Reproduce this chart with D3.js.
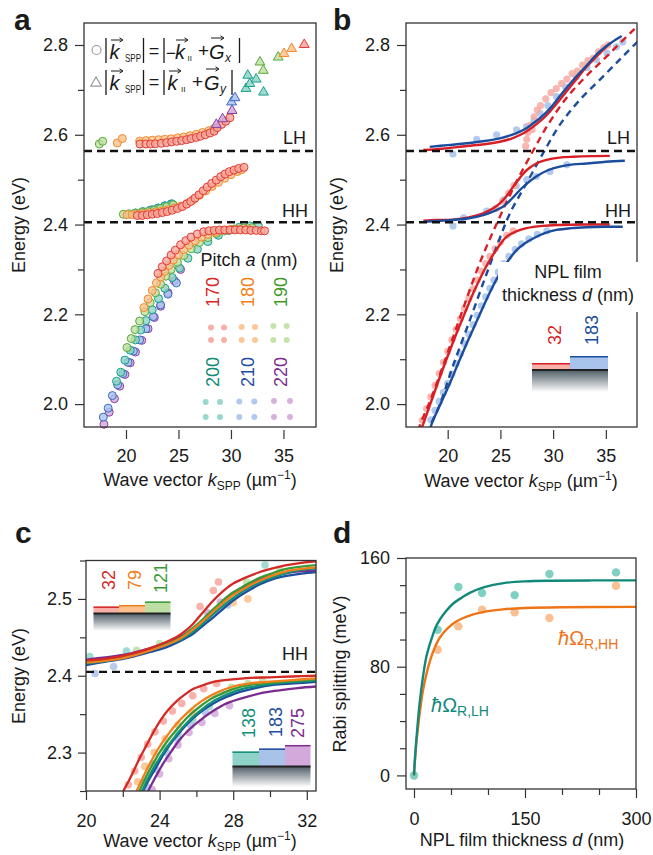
<!DOCTYPE html>
<html>
<head>
<meta charset="utf-8">
<script src="https://cdn.jsdelivr.net/npm/d3@7"></script>
<style>
  body { margin: 0; background: #fff; }
  text { font-family: "Liberation Sans", Arial, Helvetica, sans-serif; fill: #1a1a1a; }
</style>
</head>
<body>
<svg id="fig" width="653" height="855"></svg>
<script>
// ---------------- Panel a: measured polariton dispersion for six grating pitches ----------------
const pitches = [170, 180, 190, 200, 210, 220];
const pitchStroke = { 170: "#e23b33", 180: "#f28a2e", 190: "#5aa83a", 200: "#17a08a", 210: "#3b6cc4", 220: "#8a3f9e" };
const pitchFill   = { 170: "#f6a79f", 180: "#fbc28d", 190: "#bfe0a4", 200: "#8fd4c8", 210: "#a9c3ee", 220: "#d2a9da" };
const pitchText   = { 170: "#d9261f", 180: "#f07f16", 190: "#3f9a2a", 200: "#0f8c76", 210: "#1f4ea0", 220: "#7b2d8e" };

// circles: |k_SPP| = |-k + Gx| ; triangles: |k_SPP| = |k + Gy|   ([k (um^-1), E (eV)])
const circles220 = [[17.9,1.955],[18.4,1.982],[18.9,2.012],[19.4,2.040],[19.9,2.066],[20.4,2.092],[20.9,2.116],[21.5,2.142],[22.1,2.168],[22.7,2.193],[23.3,2.218],[24.0,2.248],[24.6,2.275],[25.2,2.300]];
const circles210 = [[17.84,1.971],[18.3,1.991],[18.7,2.019],[19.2,2.043],[19.7,2.068],[20.2,2.093],[20.7,2.118],[21.3,2.143],[21.9,2.168],[22.6,2.195],[23.3,2.221],[24.0,2.245],[24.8,2.270],
  [22.5,2.433],[23.1,2.437],[23.7,2.442],[24.3,2.446]];
const circles200 = [[19.1,2.051],[19.5,2.071],[19.9,2.098],[20.4,2.120],[20.9,2.143],[21.4,2.165],[21.9,2.186],[22.5,2.210],[23.1,2.235],[23.7,2.258],[24.4,2.282],[25.1,2.303],[25.9,2.325],[26.8,2.345],[27.8,2.362],[28.8,2.376],[29.8,2.387],[30.8,2.394],[31.8,2.397],[32.6,2.398],
  [20.9,2.426],[21.6,2.429],[22.3,2.432],[23.0,2.436],[23.7,2.441],[24.4,2.446]];
const circles190 = [[20.1,2.126],[20.5,2.146],[20.86,2.166],[21.3,2.185],[21.8,2.206],[22.3,2.226],[22.8,2.248],[23.3,2.267],[23.8,2.285],[24.3,2.300],[24.9,2.316],[25.5,2.331],[26.2,2.346],[27.0,2.360],[27.8,2.371],[28.6,2.380],[29.4,2.386],[30.3,2.390],[31.2,2.392],[32.0,2.393],
  [19.75,2.423],[20.3,2.424],[20.9,2.425],[21.5,2.427],[22.1,2.429],[22.7,2.432],[23.3,2.436],[23.9,2.440],[24.5,2.444],
  [17.46,2.5795],[17.78,2.5855]];
const circles180 = [[21.7,2.215],[22.1,2.234],[22.5,2.253],[22.9,2.270],[23.3,2.283],[23.7,2.296],[24.1,2.309],[24.5,2.321],[25.0,2.333],[25.5,2.344],[26.0,2.354],[26.6,2.364],[27.2,2.372],[27.8,2.378],[28.5,2.383],[29.2,2.387],[30.0,2.389],[30.8,2.390],[31.6,2.390],
  [20.1,2.4217],[20.6,2.422],[21.1,2.423],[21.6,2.424],[22.2,2.426],[22.8,2.428],[23.4,2.430],[24.0,2.433],[24.6,2.437],[25.2,2.441],[25.8,2.447],[26.4,2.455],[27.0,2.465],[27.6,2.475],[28.2,2.485],[28.8,2.494],[29.4,2.503],[30.0,2.511],[30.6,2.518],[31.0,2.522],
  [19.17,2.5817],[19.65,2.5915],[21.3,2.586],[21.9,2.587],[22.5,2.588],[23.1,2.589],[23.7,2.590],[24.3,2.591],[24.9,2.593],[25.5,2.595],[26.1,2.598],[26.7,2.601],[27.3,2.605],[27.9,2.609],[28.4,2.614]];
const circles170 = [[23.05,2.291],[23.46,2.306],[23.87,2.319],[24.3,2.332],[24.7,2.343],[25.2,2.355],[25.7,2.364],[26.2,2.372],[26.8,2.379],[27.4,2.384],[27.9,2.386],[28.4,2.387],[28.9,2.388],[29.4,2.388],[29.9,2.388],[30.4,2.388],[30.9,2.388],[31.4,2.388],[31.9,2.387],[32.4,2.387],[32.9,2.386],[33.2,2.386],
  [21.08,2.4201],[21.55,2.4201],[22.03,2.4217],[22.5,2.423],[22.98,2.4246],[23.46,2.4268],[23.93,2.429],[24.4,2.432],[24.89,2.4357],[25.36,2.440],[25.78,2.4454],[26.16,2.4514],[26.57,2.4588],[26.95,2.4663],[27.36,2.4753],[27.74,2.4834],[28.16,2.4916],[28.6,2.499],[29.02,2.5066],[29.43,2.5124],[29.84,2.5178],[30.29,2.5214],[30.73,2.525],[31.24,2.5274],
  [21.33,2.5795],[21.9,2.5795],[22.35,2.5795],[22.8,2.580],[23.36,2.581],[23.87,2.5825],[24.35,2.584],[24.83,2.5855],[25.3,2.587],[25.78,2.589],[26.2,2.5915],[26.7,2.594],[27.1,2.597],[27.55,2.600],[28.0,2.604],[28.4,2.608],[28.7,2.616],[29.1,2.623],[29.5,2.630],[29.9,2.638]];
const circlesByPitch = { 170: circles170, 180: circles180, 190: circles190, 200: circles200, 210: circles210, 220: circles220 };

const triangles220 = [[28.6,2.625],[29.2,2.6375],[30.1,2.656]];
const triangles210 = [[30.06,2.675],[30.38,2.6845]];
const triangles200 = [[31.43,2.705],[31.8,2.716],[32.4,2.726],[31.6,2.7345],[33.1,2.697]];
const triangles190 = [[32.76,2.764],[33.08,2.7455],[34.5,2.775]];
const triangles180 = [[35.05,2.783],[35.78,2.794]];
const triangles170 = [[36.98,2.803]];
const trianglesByPitch = { 170: triangles170, 180: triangles180, 190: triangles190, 200: triangles200, 210: triangles210, 220: triangles220 };

const excitonLH = 2.564;
const excitonHH = 2.405;

// ---------------- Panel b: coupled-oscillator fits for d = 32 nm (red) and 183 nm (blue) ----------------
const bRedUpper  = [[17.69,2.566],[19.5,2.569],[21.8,2.575],[23.5,2.579],[24.95,2.5845],[26.0,2.591],[26.85,2.5995],[27.5,2.608],[28.1,2.618],[28.8,2.631],[29.4,2.644],[30.0,2.660],[30.6,2.677],[31.9,2.715],[33.2,2.752],[34.4,2.781],[35.4,2.804]];
const bBlueUpper = [[18.3,2.573],[20.0,2.577],[21.8,2.581],[23.5,2.586],[24.95,2.592],[26.0,2.599],[26.85,2.607],[27.5,2.615],[28.1,2.6255],[28.8,2.638],[29.4,2.651],[30.0,2.667],[30.6,2.685],[31.9,2.722],[33.2,2.755],[34.4,2.785],[35.5,2.805],[36.5,2.820]];
const bRedMiddle  = [[17.7,2.4085],[19.0,2.410],[20.5,2.411],[22.0,2.416],[23.37,2.425],[24.3,2.436],[24.95,2.447],[25.6,2.464],[26.2,2.484],[26.85,2.504],[27.48,2.521],[28.4,2.536],[29.37,2.544],[30.6,2.549],[31.9,2.551],[33.6,2.5525],[35.37,2.553]];
const bBlueMiddle = [[17.7,2.406],[19.0,2.408],[20.5,2.410],[22.0,2.414],[23.37,2.421],[24.4,2.430],[25.27,2.440],[26.1,2.458],[26.85,2.477],[27.6,2.493],[28.4,2.507],[29.5,2.521],[30.63,2.529],[31.9,2.534],[33.16,2.536],[35.0,2.540],[36.8,2.542]];
const bRedLower  = [[17.5,1.945],[17.7,1.957],[18.5,2.010],[19.27,2.061],[20.05,2.110],[20.85,2.158],[21.65,2.204],[22.42,2.247],[23.2,2.286],[24.0,2.321],[24.8,2.350],[25.6,2.373],[26.5,2.385],[27.48,2.392],[29.0,2.397],[30.63,2.399],[33.0,2.400],[35.37,2.400]];
const bBlueLower = [[18.35,1.945],[18.5,1.957],[19.35,2.002],[20.2,2.046],[21.0,2.091],[21.8,2.135],[22.6,2.177],[23.37,2.217],[24.15,2.256],[24.95,2.291],[25.75,2.320],[26.53,2.343],[27.3,2.358],[28.1,2.369],[29.2,2.381],[30.3,2.388],[31.7,2.392],[33.16,2.394],[34.9,2.395],[36.6,2.395]];
const bRedSPP  = [[17.2,1.94],[17.4,1.955],[18.3,2.005],[19.4,2.075],[20.5,2.148],[21.8,2.235],[23.0,2.312],[24.0,2.368],[25.0,2.420],[26.4,2.490],[28.0,2.560],[29.5,2.622],[31.3,2.683],[33.2,2.732],[35.1,2.775],[37.6,2.833],[38.4,2.850]];
const bBlueSPP = [[18.0,1.935],[18.3,1.950],[19.27,2.000],[20.5,2.085],[22.1,2.187],[23.7,2.291],[24.95,2.370],[25.9,2.425],[27.48,2.492],[29.05,2.559],[30.63,2.622],[32.5,2.677],[34.7,2.729],[36.5,2.772],[37.9,2.805],[38.6,2.820]];
const bRedDots = [[17.6,1.964],[18.0,1.990],[18.4,2.016],[18.8,2.042],[19.2,2.068],[19.6,2.093],[20.0,2.118],[20.4,2.143],[20.8,2.167],[21.2,2.190],[21.6,2.213],[22.0,2.235],[22.4,2.257],[22.8,2.277],[23.2,2.296],[23.6,2.313],[24.0,2.329],[24.5,2.346],[25.0,2.361],[25.6,2.376],[26.2,2.386],
  [24.6,2.436],[25.2,2.452],[25.8,2.470],[26.3,2.487],
  [27.4,2.575],[27.5,2.590],[27.6,2.605],[27.8,2.621],[28.0,2.612],[28.2,2.640],[28.5,2.655],[28.8,2.665],[29.3,2.680],[29.8,2.694],[30.3,2.703],[30.8,2.714],[31.3,2.724],[31.8,2.736],[32.3,2.742],[32.8,2.755],[33.3,2.765],[33.8,2.771],[34.3,2.785],[34.8,2.794],[35.2,2.800]];
const bBlueDots = [[18.4,1.965],[18.8,1.986],[19.2,2.006],[19.6,2.026],[20.0,2.046],[20.4,2.067],[20.8,2.090],[21.2,2.112],[21.6,2.135],[22.0,2.156],[22.4,2.177],[22.8,2.198],[23.2,2.219],[23.6,2.239],[24.0,2.258],[24.4,2.276],[24.8,2.294],[25.3,2.313],[25.8,2.329],[26.4,2.345],[27.0,2.357],[27.7,2.368],[28.5,2.378],[29.4,2.386],
  [20.5,2.397],[21.5,2.415],[23.7,2.430],[25.3,2.455],[26.5,2.486],[27.5,2.500],[28.4,2.507],[29.7,2.518],[31.3,2.533],
  [20.5,2.557],[22.75,2.590],[24.64,2.600],[26.53,2.611],[27.48,2.618],[28.2,2.632],[28.75,2.648],[29.5,2.665],[30.32,2.685],[31.2,2.706],[32.2,2.729],[33.2,2.750],[34.1,2.767],[35.1,2.782],[36.0,2.796],[36.6,2.807]];

// ---------------- Panel c: fits for six film thicknesses around the HH exciton ----------------
const cThickness = [32, 79, 121, 138, 183, 275];
const cStroke = { 32: "#d42a25", 79: "#f0801e", 121: "#3b9a36", 138: "#108f7a", 183: "#1f4e9c", 275: "#7b2d8e" };
const cFill   = { 32: "#f6a49c", 79: "#fbc08c", 121: "#bcdfa6", 138: "#8fd3c8", 183: "#a9c2ea", 275: "#d3a8da" };
const cUpper = {
  32:  [[20,2.420],[21,2.422],[22,2.426],[22.57,2.429],[23.5,2.436],[24.35,2.444],[24.9,2.450],[25.43,2.459],[25.8,2.467],[26.16,2.477],[26.55,2.488],[26.92,2.498],[27.5,2.511],[28,2.520],[28.7,2.528],[29.46,2.535],[30.2,2.540],[30.9,2.544],[31.7,2.547],[32.5,2.549]],
  79:  [[20,2.417],[22,2.423],[23.5,2.433],[24.35,2.440],[25.1,2.448],[25.7,2.458],[26.3,2.470],[26.8,2.481],[27.4,2.494],[28,2.505],[28.7,2.515],[29.46,2.524],[30.2,2.531],[30.9,2.536],[31.7,2.539],[32.5,2.541]],
  121: [[20,2.418],[22,2.424],[23.5,2.434],[24.35,2.441],[25.1,2.449],[25.6,2.458],[26.2,2.470],[26.7,2.482],[27.3,2.495],[27.9,2.507],[28.6,2.517],[29.4,2.527],[30.2,2.534],[30.9,2.539],[31.7,2.542],[32.5,2.544]],
  138: [[20,2.416],[22,2.423],[23.5,2.433],[24.35,2.440],[25.2,2.448],[25.8,2.457],[26.4,2.469],[26.9,2.480],[27.5,2.492],[28.1,2.503],[28.8,2.514],[29.6,2.523],[30.4,2.530],[31.1,2.535],[31.8,2.538],[32.5,2.540]],
  183: [[20,2.414],[21,2.418],[22,2.422],[22.57,2.425],[23.5,2.431],[24.35,2.437],[25.1,2.445],[25.84,2.455],[26.4,2.466],[26.92,2.476],[27.5,2.488],[28,2.498],[28.7,2.509],[29.46,2.519],[30.2,2.526],[30.9,2.530],[31.7,2.533],[32.5,2.535]],
  275: [[20,2.421],[22,2.427],[23.5,2.436],[24.35,2.443],[25,2.449],[25.43,2.455],[26,2.465],[26.55,2.476],[27.1,2.488],[27.64,2.500],[28.3,2.511],[29.1,2.522],[29.9,2.529],[30.72,2.533],[31.6,2.536],[32.5,2.537]]
};
const cLower = {
  32:  [[21.9,2.243],[22.03,2.250],[22.3,2.262],[22.57,2.275],[22.9,2.292],[23.3,2.310],[23.65,2.326],[24.02,2.341],[24.45,2.355],[24.93,2.367],[25.4,2.376],[25.84,2.383],[26.4,2.388],[26.92,2.392],[27.8,2.395],[28.73,2.397],[30,2.398],[31.2,2.399],[32.5,2.400]],
  79:  [[22.6,2.243],[22.75,2.250],[23.1,2.268],[23.48,2.286],[23.9,2.304],[24.38,2.321],[24.9,2.337],[25.47,2.351],[26,2.362],[26.55,2.371],[27.2,2.379],[28,2.386],[28.9,2.390],[29.82,2.392],[31,2.394],[32.5,2.3966]],
  121: [[22.75,2.243],[22.9,2.250],[23.25,2.268],[23.65,2.286],[24.07,2.303],[24.55,2.319],[25.1,2.335],[25.65,2.349],[26.2,2.360],[26.8,2.370],[27.5,2.378],[28.3,2.385],[29.2,2.389],[30.1,2.391],[31.2,2.393],[32.5,2.395]],
  138: [[22.9,2.243],[23.05,2.250],[23.4,2.268],[23.8,2.285],[24.25,2.302],[24.75,2.318],[25.3,2.334],[25.85,2.347],[26.4,2.358],[27,2.368],[27.7,2.376],[28.5,2.383],[29.4,2.387],[30.3,2.390],[31.3,2.392],[32.5,2.394]],
  183: [[23.0,2.243],[23.11,2.250],[23.45,2.266],[23.84,2.282],[24.27,2.300],[24.74,2.316],[25.3,2.332],[25.84,2.345],[26.4,2.356],[26.92,2.364],[27.6,2.372],[28.37,2.379],[29.2,2.384],[30.18,2.388],[31.3,2.390],[32.5,2.392]],
  275: [[23.25,2.243],[23.38,2.250],[23.75,2.267],[24.2,2.286],[24.65,2.302],[25.1,2.317],[25.65,2.331],[26.2,2.342],[26.9,2.354],[27.64,2.364],[28.5,2.371],[29.46,2.377],[30.5,2.381],[31.5,2.384],[32.5,2.386]]
};
const cDots = {
  275: [[23.6,2.252],[24.0,2.272],[24.5,2.292],[25.0,2.310],[25.6,2.326],[26.3,2.339],[27.0,2.351],[27.8,2.361],[26.6,2.482],[27.3,2.496]],
  183: [[20.49,2.403],[21.5,2.412],[23.3,2.255],[23.8,2.278],[24.4,2.300],[25.0,2.318],[25.7,2.335],[26.5,2.352],[27.5,2.375],[27.7,2.492]],
  138: [[20.2,2.425],[22.2,2.432],[29.73,2.544],[23.2,2.262],[23.7,2.285],[24.3,2.306],[25.0,2.325],[25.8,2.343],[26.7,2.360],[27.8,2.377]],
  121: [[22.75,2.433],[24.0,2.442],[28.73,2.522],[30.54,2.5375],[28.3,2.508],[28.8,2.390],[29.6,2.393],[27.9,2.385]],
  79:  [[22.8,2.262],[23.2,2.282],[23.7,2.300],[24.3,2.318],[25.0,2.336],[25.8,2.352],[28.8,2.500],[28.0,2.495]],
  32:  [[22.3,2.258],[22.65,2.276],[23.0,2.294],[23.35,2.311],[23.75,2.327],[24.2,2.341],[24.7,2.354],[25.2,2.364],[25.8,2.374],[26.4,2.383],[27.1,2.390],[26.2,2.490],[26.92,2.511],[27.2,2.522]]
};

// ---------------- Panel d: Rabi splitting vs film thickness ----------------
const dThickness = [0, 32, 60, 92, 136, 183, 273];
const rabiLH = [0, 107.2, 138.7, 134.2, 132.7, 148.2, 149.4];
const rabiHH = [0, 92.5, 109.7, 122.0, 120.0, 115.8, 139.6];
const fitLH = [[0,0],[1,10],[2,18],[3,25],[5,38],[8,55],[12,72],[17,88],[24,101],[31,111],[42,120],[53,126.5],[65,131],[76,134.5],[95,138.5],[121,141.5],[150,142.8],[188,143.3],[240,143.5],[300,143.5]];
const fitHH = [[0,0],[1,9],[2,16],[3,23],[5,33],[8,47],[12,62],[17,75],[22,85],[28,94],[35,101.5],[45,108],[55,112.5],[65,115.5],[80,118.5],[98,120.7],[120,122.2],[150,123.2],[200,123.8],[300,124]];

// =====================================================================================
const svg = d3.select("#fig");
const FS = 18;
const defs = svg.append("defs");

const grad = defs.append("linearGradient").attr("id", "substrate").attr("x1", 0).attr("y1", 0).attr("x2", 0).attr("y2", 1);
grad.append("stop").attr("offset", "0%").attr("stop-color", "#4f5d66");
grad.append("stop").attr("offset", "100%").attr("stop-color", "#ffffff");

function clip(id, x0, y0, x1, y1) {
  defs.append("clipPath").attr("id", id).append("rect").attr("x", x0).attr("y", y0).attr("width", x1 - x0).attr("height", y1 - y0);
  return `url(#${id})`;
}

function frame(x0, y0, x1, y1) {
  svg.append("rect").attr("x", x0).attr("y", y0).attr("width", x1 - x0).attr("height", y1 - y0)
    .attr("fill", "none").attr("stroke", "#333").attr("stroke-width", 1.3);
}

function leftAxis(y, x, all, major, fmt, size, pad) {
  const g = svg.append("g").attr("transform", `translate(${x},0)`)
    .call(d3.axisLeft(y).tickValues(all).tickSize(size).tickPadding(pad).tickFormat(fmt));
  g.select(".domain").remove();
  g.selectAll(".tick").each(function (d) {
    const isMajor = major.some(m => Math.abs(m - d) < 1e-9);
    if (!isMajor) { d3.select(this).select("text").remove(); d3.select(this).select("line").attr("x2", -6); }
  });
  g.selectAll("line").attr("stroke", "#333").attr("stroke-width", 1.2);
  g.selectAll("text").attr("font-size", FS).attr("fill", "#1a1a1a").attr("font-family", null);
  return g;
}

function bottomAxis(x, y0, all, major, fmt, size, pad) {
  const g = svg.append("g").attr("transform", `translate(0,${y0})`)
    .call(d3.axisBottom(x).tickValues(all).tickSize(size).tickPadding(pad).tickFormat(fmt));
  g.select(".domain").remove();
  g.selectAll(".tick").each(function (d) {
    const isMajor = major.some(m => Math.abs(m - d) < 1e-9);
    if (!isMajor) { d3.select(this).select("text").remove(); d3.select(this).select("line").attr("y2", 6); }
  });
  g.selectAll("line").attr("stroke", "#333").attr("stroke-width", 1.2);
  g.selectAll("text").attr("font-size", FS).attr("fill", "#1a1a1a").attr("font-family", null);
  return g;
}

function waveVectorTitle(cx, y) {
  const t = svg.append("text").attr("x", cx).attr("y", y).attr("text-anchor", "middle").attr("font-size", FS);
  t.append("tspan").text("Wave vector ");
  t.append("tspan").attr("font-style", "italic").text("k");
  t.append("tspan").attr("font-size", 12).attr("dy", 4).text("SPP");
  t.append("tspan").attr("dy", -4).text(" (µm");
  t.append("tspan").attr("font-size", 12).attr("dy", -7).text("−1");
  t.append("tspan").attr("dy", 7).text(")");
}

function yTitle(x, cy, txt) {
  svg.append("text").attr("transform", `translate(${x},${cy}) rotate(-90)`).attr("text-anchor", "middle")
    .attr("font-size", FS).text(txt);
}

function panelLetter(x, y, s) {
  svg.append("text").attr("x", x).attr("y", y).attr("font-size", 30).attr("font-weight", "bold").attr("fill", "#000").text(s);
}

function rotLabel(x, y, s, color, size) {
  svg.append("text").attr("transform", `translate(${x},${y}) rotate(-90)`).attr("text-anchor", "middle")
    .attr("dominant-baseline", "central").attr("font-size", size || FS).style("fill", color).text(s);
}

function dashed(yv, x0, x1) {
  svg.append("line").attr("x1", x0).attr("x2", x1).attr("y1", yv).attr("y2", yv)
    .attr("stroke", "#111").attr("stroke-width", 2.4).attr("stroke-dasharray", "8,5");
}

function filmIcon(x0, layers, lineY, baseBottom) {
  let x = x0;
  const total = layers.reduce((s, l) => s + l.w, 0);
  svg.append("rect").attr("x", x0).attr("y", lineY).attr("width", total).attr("height", baseBottom - lineY).attr("fill", "url(#substrate)");
  layers.forEach(l => {
    svg.append("rect").attr("x", x).attr("y", l.top).attr("width", l.w).attr("height", lineY - l.top).attr("fill", l.fill);
    svg.append("line").attr("x1", x).attr("x2", x + l.w).attr("y1", l.top + 0.7).attr("y2", l.top + 0.7).attr("stroke", l.stroke).attr("stroke-width", 1.5);
    x += l.w;
  });
  svg.append("line").attr("x1", x0).attr("x2", x0 + total).attr("y1", lineY).attr("y2", lineY).attr("stroke", "#222").attr("stroke-width", 2);
}

// ===================== Panel a =====================
{
  const x = d3.scaleLinear().domain([16, 38.1]).range([84, 316]);
  const y = d3.scaleLinear().domain([1.949, 2.849]).range([427, 23]);
  const sub = svg.append("g");

  dashed(y(excitonLH), 84, 316);
  dashed(y(excitonHH), 84, 316);
  svg.append("text").attr("x", 306).attr("y", 144).attr("text-anchor", "end").attr("font-size", FS).text("LH");
  svg.append("text").attr("x", 308).attr("y", 217).attr("text-anchor", "end").attr("font-size", FS).text("HH");

  const order = [220, 210, 200, 190, 180, 170];
  order.forEach(p => {
    sub.append("g").selectAll("circle").data(circlesByPitch[p]).join("circle")
      .attr("cx", d => x(d[0])).attr("cy", d => y(d[1])).attr("r", 4)
      .attr("fill", pitchFill[p]).attr("fill-opacity", 0.8).attr("stroke", pitchStroke[p]).attr("stroke-width", 1);
  });
  order.forEach(p => {
    sub.append("g").selectAll("path").data(trianglesByPitch[p]).join("path")
      .attr("transform", d => `translate(${x(d[0])},${y(d[1]) + 1})`)
      .attr("d", d3.symbol(d3.symbolTriangle, 42))
      .attr("fill", pitchFill[p]).attr("fill-opacity", 0.85).attr("stroke", pitchStroke[p]).attr("stroke-width", 1);
  });

  frame(84, 23, 316, 427);
  leftAxis(y, 84, d3.range(2.0, 2.81, 0.1).map(v => +v.toFixed(2)), [2.0, 2.2, 2.4, 2.6, 2.8], d3.format(".1f"), 9, 7);
  bottomAxis(x, 430, [20, 25, 30, 35], [20, 25, 30, 35], d3.format("d"), 9, 10);
  waveVectorTitle(200, 486);
  yTitle(25, 225, "Energy (eV)");
  panelLetter(14, 30, "a");

  // legend with vector notation
  const ink = "#1a1a1a";
  const arrow = (x0, x1, yy) => {
    svg.append("line").attr("x1", x0).attr("x2", x1 - 1).attr("y1", yy).attr("y2", yy).attr("stroke", ink).attr("stroke-width", 1);
    svg.append("path").attr("d", `M${x1 - 3.5},${yy - 2.2} L${x1},${yy} L${x1 - 3.5},${yy + 2.2}`).attr("fill", "none").attr("stroke", ink).attr("stroke-width", 1);
  };
  const bar = (xx, y0, y1) => svg.append("line").attr("x1", xx).attr("x2", xx).attr("y1", y0).attr("y2", y1).attr("stroke", ink).attr("stroke-width", 1.3);
  const txt = (xx, yy, s, size, italic, len) => {
    const t = svg.append("text").attr("x", xx).attr("y", yy).attr("font-size", size).attr("font-style", italic ? "italic" : null).text(s);
    if (len) t.attr("textLength", len).attr("lengthAdjust", "spacingAndGlyphs");
    return t;
  };
  const mid = (xx, yy, s, size) => svg.append("text").attr("x", xx).attr("y", yy).attr("text-anchor", "middle").attr("font-size", size).text(s);

  // row 1
  svg.append("circle").attr("cx", 96.5).attr("cy", 50).attr("r", 4.5).attr("fill", "none").attr("stroke", "#9a9a9a").attr("stroke-width", 1.2);
  bar(106, 38, 63); txt(109.5, 59, "k", 20, true); arrow(111, 123, 40); txt(125, 62, "SPP", 10.5, false, 16); bar(143.5, 38, 63);
  mid(154, 57, "=", 18);
  bar(164, 38, 63);
  const r1 = svg.append("text").attr("x", 166).attr("y", 59).attr("font-size", 20);
  r1.append("tspan").attr("font-size", 17).text("−");
  r1.append("tspan").attr("font-style", "italic").attr("dx", -1).text("k");
  arrow(176, 188, 40); txt(187.5, 61, "II", 8, false, 4.5);
  mid(203.5, 57, "+", 19);
  txt(209, 59, "G", 20, true); arrow(211, 224, 38); txt(225, 62, "x", 12, true); bar(239.5, 38, 63);

  // row 2
  svg.append("path").attr("transform", "translate(96,83)").attr("d", d3.symbol(d3.symbolTriangle, 48)).attr("fill", "none").attr("stroke", "#9a9a9a").attr("stroke-width", 1.2);
  bar(106, 70, 95); txt(109.5, 90, "k", 20, true); arrow(111, 123, 71); txt(125, 93, "SPP", 10.5, false, 16); bar(143.5, 70, 95);
  mid(154, 88, "=", 18);
  bar(164, 70, 95); txt(167.5, 90, "k", 20, true); arrow(169, 181, 71); txt(181, 92, "II", 8, false, 4.5);
  mid(197.5, 88, "+", 19);
  txt(204, 90, "G", 20, true); arrow(206, 219, 69); txt(220, 93, "y", 12, true); bar(232, 70, 95);

  // pitch legend
  const pt = svg.append("text").attr("x", 249).attr("y", 266).attr("text-anchor", "middle").attr("font-size", FS);
  pt.append("tspan").text("Pitch ");
  pt.append("tspan").attr("font-style", "italic").text("a");
  pt.append("tspan").text(" (nm)");
  const labY = [292, 372];
  const dotPos = { 170: [211, 224], 180: [241.7, 255], 190: [273.3, 286.7], 200: [205.7, 220], 210: [239.3, 254.3], 220: [274, 290] };
  const dotRows = { 170: [327.5, 340], 180: [327, 340], 190: [326, 340], 200: [402, 417], 210: [401.5, 417], 220: [401, 417] };
  pitches.forEach((p, i) => {
    const lx = [213, 248, 281][i % 3];
    rotLabel(lx, labY[Math.floor(i / 3)], String(p), pitchText[p]);
    dotPos[p].forEach(dx => dotRows[p].forEach(dy => {
      svg.append("circle").attr("cx", dx).attr("cy", dy).attr("r", 3).attr("fill", pitchFill[p]).attr("opacity", 0.9);
    }));
  });
}

// ===================== Panel b =====================
{
  const x = d3.scaleLinear().domain([16, 38]).range([405.5, 637.5]);
  const y = d3.scaleLinear().domain([1.949, 2.849]).range([427, 23]);
  const cp = clip("clipB", 406, 23, 637, 427);
  const g = svg.append("g").attr("clip-path", cp);
  const line = d3.line().x(d => x(d[0])).y(d => y(d[1])).curve(d3.curveCatmullRom.alpha(0.5));

  g.selectAll(".bb").data(bBlueDots).join("circle").attr("cx", d => x(d[0])).attr("cy", d => y(d[1])).attr("r", 3.6).attr("fill", "#a9c4ec").attr("opacity", 0.9);
  g.selectAll(".br").data(bRedDots).join("circle").attr("cx", d => x(d[0])).attr("cy", d => y(d[1])).attr("r", 3.6).attr("fill", "#f6aaa2").attr("opacity", 0.85);

  dashed(y(excitonLH), 406, 637);
  dashed(y(excitonHH), 406, 637);

  g.append("path").datum(bRedSPP).attr("d", line).attr("fill", "none").attr("stroke", "#d81f26").attr("stroke-width", 2.4).attr("stroke-dasharray", "7,5");
  g.append("path").datum(bBlueSPP).attr("d", line).attr("fill", "none").attr("stroke", "#1c4c9c").attr("stroke-width", 2.4).attr("stroke-dasharray", "7,5");
  [bRedLower, bRedMiddle, bRedUpper].forEach(c => g.append("path").datum(c).attr("d", line).attr("fill", "none").attr("stroke", "#d81f26").attr("stroke-width", 2.4));
  [bBlueLower, bBlueMiddle, bBlueUpper].forEach(c => g.append("path").datum(c).attr("d", line).attr("fill", "none").attr("stroke", "#1c4c9c").attr("stroke-width", 2.4));

  svg.append("text").attr("x", 630).attr("y", 144).attr("text-anchor", "end").attr("font-size", FS).text("LH");
  svg.append("text").attr("x", 631).attr("y", 217).attr("text-anchor", "end").attr("font-size", FS).text("HH");

  frame(406, 23, 637, 427);
  svg.append("rect").attr("x", 498).attr("y", 262).attr("width", 145).attr("height", 50).attr("fill", "#fff");
  svg.append("text").attr("x", 568).attr("y", 278).attr("text-anchor", "middle").attr("font-size", FS).text("NPL film");
  const tt = svg.append("text").attr("x", 568).attr("y", 301).attr("text-anchor", "middle").attr("font-size", FS);
  tt.append("tspan").text("thickness ");
  tt.append("tspan").attr("font-style", "italic").text("d");
  tt.append("tspan").text(" (nm)");

  filmIcon(532, [
    { w: 38, top: 363, fill: "#f6b0a8", stroke: "#d81f26" },
    { w: 38, top: 356, fill: "#a9c4ec", stroke: "#1c4c9c" }
  ], 370, 392);
  rotLabel(555, 335, "32", "#d81f26");
  rotLabel(591.5, 330, "183", "#1c4c9c");

  leftAxis(y, 406, d3.range(2.0, 2.81, 0.1).map(v => +v.toFixed(2)), [2.0, 2.2, 2.4, 2.6, 2.8], d3.format(".1f"), 9, 7);
  bottomAxis(x, 430, [20, 25, 30, 35], [20, 25, 30, 35], d3.format("d"), 9, 10);
  waveVectorTitle(521, 487);
  yTitle(343, 225, "Energy (eV)");
  panelLetter(333, 30, "b");
}

// ===================== Panel c =====================
{
  const x = d3.scaleLinear().domain([20, 32.5]).range([86, 316]);
  const y = d3.scaleLinear().domain([2.25, 2.55]).range([791, 560.5]);
  const cp = clip("clipC", 86, 560.5, 316, 791);
  const g = svg.append("g").attr("clip-path", cp);
  const line = d3.line().x(d => x(d[0])).y(d => y(d[1])).curve(d3.curveCatmullRom.alpha(0.5));

  cThickness.slice().reverse().forEach(t => {
    g.append("g").selectAll("circle").data(cDots[t]).join("circle")
      .attr("cx", d => x(d[0])).attr("cy", d => y(d[1])).attr("r", 3.8).attr("fill", cFill[t]).attr("opacity", 0.85);
  });
  dashed(y(excitonHH), 86, 316);
  const drawOrder = [275, 183, 138, 121, 79, 32];
  drawOrder.forEach(t => {
    g.append("path").datum(cUpper[t]).attr("d", line).attr("fill", "none").attr("stroke", cStroke[t]).attr("stroke-width", 2.3);
    g.append("path").datum(cLower[t]).attr("d", line).attr("fill", "none").attr("stroke", cStroke[t]).attr("stroke-width", 2.3);
  });
  svg.append("text").attr("x", 308).attr("y", 660).attr("text-anchor", "end").attr("font-size", FS).text("HH");

  frame(86, 560.5, 316, 791);

  filmIcon(93.5, [
    { w: 25.5, top: 606.5, fill: "#f6b0a8", stroke: "#d42a25" },
    { w: 26, top: 605, fill: "#fbc08c", stroke: "#f0801e" },
    { w: 25.5, top: 601.5, fill: "#bcdfa6", stroke: "#3b9a36" }
  ], 613.5, 631);
  rotLabel(108.5, 580, "32", cStroke[32]);
  rotLabel(135, 580, "79", cStroke[79]);
  rotLabel(160.5, 578, "121", cStroke[121]);

  filmIcon(232.5, [
    { w: 26.5, top: 751.5, fill: "#8fd3c8", stroke: "#108f7a" },
    { w: 26, top: 748.5, fill: "#a9c2ea", stroke: "#1f4e9c" },
    { w: 25.5, top: 745, fill: "#d3a8da", stroke: "#7b2d8e" }
  ], 766.5, 787);
  rotLabel(248.5, 723, "138", cStroke[138]);
  rotLabel(276, 722, "183", cStroke[183]);
  rotLabel(297.5, 723, "275", cStroke[275]);

  leftAxis(y, 86, [2.25, 2.3, 2.35, 2.4, 2.45, 2.5, 2.55], [2.3, 2.4, 2.5], d3.format(".1f"), 8, 6);
  bottomAxis(x, 791, [20, 22, 24, 26, 28, 30, 32], [20, 24, 28, 32], d3.format("d"), 9, 14);
  waveVectorTitle(200, 847);
  yTitle(25, 676, "Energy (eV)");
  panelLetter(15, 543, "c");
}

// ===================== Panel d =====================
{
  const x = d3.scaleLinear().domain([-10.8, 300]).range([406, 636]);
  const y = d3.scaleLinear().domain([-10, 160]).range([789, 558]);
  const line = d3.line().x(d => x(d[0])).y(d => y(d[1])).curve(d3.curveCatmullRom.alpha(0.5));
  const teal = "#11897a", orange = "#ef7417";

  svg.append("g").selectAll("circle").data(dThickness.map((t, i) => [t, rabiHH[i]])).join("circle")
    .attr("cx", d => x(d[0])).attr("cy", d => y(d[1])).attr("r", 4.2).attr("fill", "#f9c093");
  svg.append("g").selectAll("circle").data(dThickness.map((t, i) => [t, rabiLH[i]])).join("circle")
    .attr("cx", d => x(d[0])).attr("cy", d => y(d[1])).attr("r", 4.2).attr("fill", "#80d0c4");

  svg.append("path").datum(fitHH).attr("d", line).attr("fill", "none").attr("stroke", orange).attr("stroke-width", 2.4);
  svg.append("path").datum(fitLH).attr("d", line).attr("fill", "none").attr("stroke", teal).attr("stroke-width", 2.4);

  const lab = (xx, yy, sub, color) => {
    const t = svg.append("text").attr("x", xx).attr("y", yy).attr("font-size", 20).style("fill", color);
    t.append("tspan").attr("font-style", "italic").text("ħ");
    t.append("tspan").text("Ω");
    t.append("tspan").attr("font-size", 14).attr("dy", 4).text(sub);
  };
  lab(558, 645, "R,HH", orange);
  lab(431, 712, "R,LH", teal);

  frame(406, 558, 636, 789);
  leftAxis(y, 406, [0, 20, 40, 60, 80, 100, 120, 140, 160], [0, 80, 160], d3.format("d"), 9, 7);
  bottomAxis(x, 789, [0, 50, 100, 150, 200, 250, 300], [0, 150, 300], d3.format("d"), 9, 14);
  const xt = svg.append("text").attr("x", 522).attr("y", 846).attr("text-anchor", "middle").attr("font-size", FS);
  xt.append("tspan").text("NPL film thickness ");
  xt.append("tspan").attr("font-style", "italic").text("d");
  xt.append("tspan").text(" (nm)");
  yTitle(346, 674, "Rabi splitting (meV)");
  panelLetter(333, 543, "d");
}
</script>
</body>
</html>
